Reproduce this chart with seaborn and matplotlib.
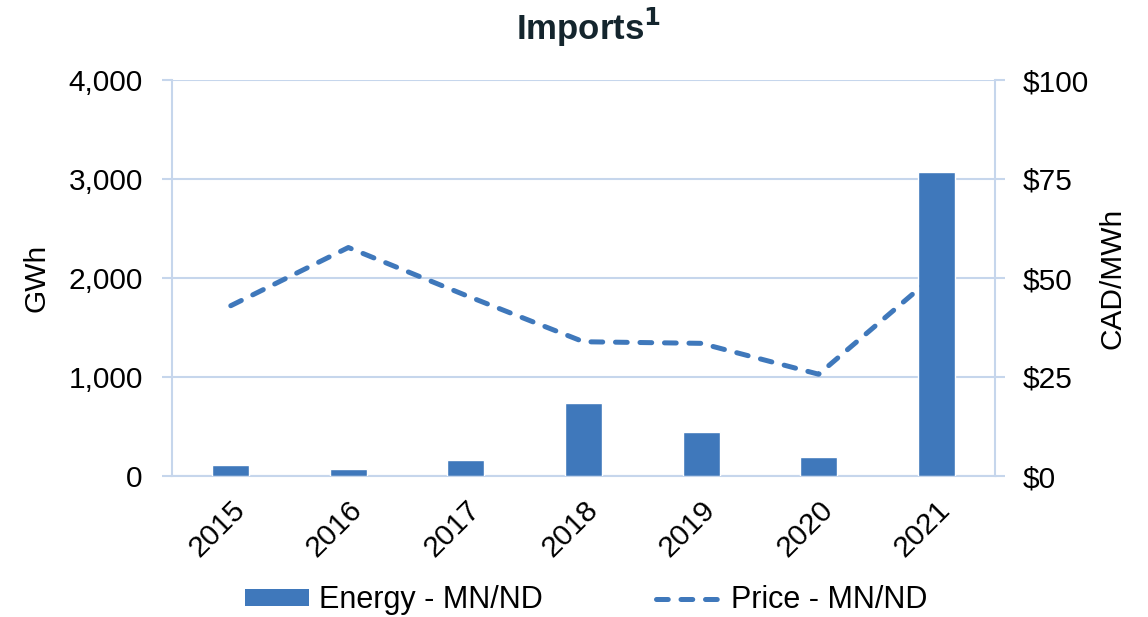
import numpy as np
import pandas as pd
import matplotlib
matplotlib.use("Agg")
import matplotlib.pyplot as plt
from matplotlib.patches import Patch
from matplotlib.lines import Line2D
from matplotlib.ticker import FuncFormatter, FixedLocator
import seaborn as sns

years = ["2015", "2016", "2017", "2018", "2019", "2020", "2021"]
energy_gwh = [110, 70, 160, 740, 445, 190, 3070]
price_cad = [43.0, 57.7, 45.6, 33.9, 33.5, 25.7, 51.0]

left_ticks = [0, 1000, 2000, 3000, 4000]
right_ticks = [0, 25, 50, 75, 100]

sns.set_theme(style="white")
plt.rcParams["font.family"] = ["Liberation Sans", "DejaVu Sans"]
plt.rcParams["text.color"] = "black"
plt.rcParams["axes.labelcolor"] = "black"

bar_color = "#3F78BB"
grid_color = "#C6D6EC"
fs = 21.5
legend_fs = 22
line_w = 3.6
dash_pattern = (2.35, 2.55)

df = pd.DataFrame({"year": years, "energy": energy_gwh, "price": price_cad})

fig = plt.figure(figsize=(11.48, 6.17), dpi=100)
ax = fig.add_axes([172 / 1148, 1 - 476 / 617, (995 - 172) / 1148, (476 - 80) / 617])

sns.barplot(data=df, x="year", y="energy", color=bar_color, saturation=1,
            width=0.315, ax=ax, zorder=3)
ax.set_xlim(-0.5, 6.5)
ax.set_ylim(0, 4000)
ax.yaxis.set_major_locator(FixedLocator(left_ticks))
ax.yaxis.set_major_formatter(FuncFormatter(lambda v, p: f"{int(v):,}"))
ax.grid(axis="y", color=grid_color, linewidth=1.5, zorder=0)
ax.set_axisbelow(True)
for s in ["top", "right"]:
    ax.spines[s].set_visible(False)
for s in ["left", "bottom"]:
    ax.spines[s].set_color(grid_color)
    ax.spines[s].set_linewidth(1.5)
ax.tick_params(axis="y", which="major", length=7, width=1.5, color=grid_color,
               labelcolor="black", labelsize=fs, pad=14, left=True)
ax.tick_params(axis="x", length=0, labelsize=fs, labelcolor="black", pad=14)
plt.setp(ax.get_xticklabels(), rotation=45, ha="right", rotation_mode="anchor")
ax.set_xlabel("")
ax.set_ylabel("GWh", fontsize=fs, labelpad=13)

ax2 = ax.twinx()
sns.lineplot(x=np.arange(len(years)), y=price_cad, ax=ax2, color=bar_color,
             linewidth=line_w, zorder=4)
line = ax2.get_lines()[0]
line.set_dashes(dash_pattern)
line.set_dash_capstyle("round")
ax2.set_ylim(0, 100)
ax2.yaxis.set_major_locator(FixedLocator(right_ticks))
ax2.yaxis.set_major_formatter(FuncFormatter(lambda v, p: f"${int(v)}"))
for s in ["top", "left", "bottom"]:
    ax2.spines[s].set_visible(False)
ax2.spines["right"].set_color(grid_color)
ax2.spines["right"].set_linewidth(1.5)
ax2.tick_params(axis="y", length=7, width=1.5, color=grid_color, labelsize=fs,
                labelcolor="black", pad=13, right=True)
ax2.set_ylabel("CAD/MWh", fontsize=fs, labelpad=7)
ax2.set_xlim(-0.5, 6.5)

fig.text(0.513, 0.955, "Imports$^{\\mathbf{1}}$", ha="center", va="center",
         fontsize=25, fontweight="bold", color="#14252D")

handles = [
    Patch(facecolor=bar_color, edgecolor="none"),
    Line2D([0], [0], color=bar_color, linewidth=line_w, dashes=dash_pattern,
           dash_capstyle="round"),
]
fig.legend(handles, ["Energy - MN/ND", "Price - MN/ND"], loc="center",
           bbox_to_anchor=(0.5105, 0.027), ncol=2, frameon=False,
           fontsize=legend_fs, handlelength=2.1, handleheight=0.5,
           handletextpad=0.35, columnspacing=3.7)

fig.savefig("out.png", dpi=100)
